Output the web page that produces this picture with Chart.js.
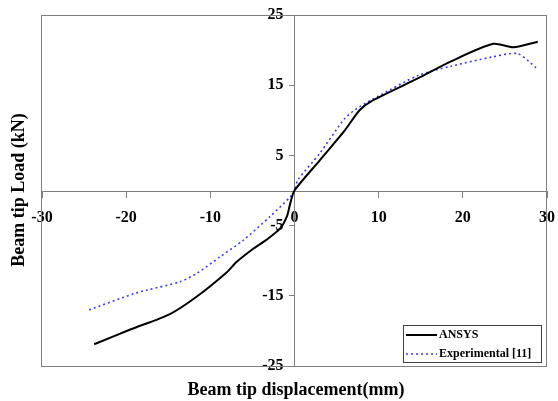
<!DOCTYPE html>
<html>
<head>
<meta charset="utf-8">
<script src="https://cdn.jsdelivr.net/npm/chart.js@4/dist/chart.umd.min.js"></script>
<style>
  html, body { margin: 0; padding: 0; background: #fff; }
  #wrap { width: 558px; height: 401px; }
</style>
</head>
<body>
<div id="wrap"><canvas id="chart" width="558" height="401"></canvas></div>
<script>
const xTicks = [-30, -20, -10, 0, 10, 20, 30];
const yTicks = [25, 15, 5, -5, -15, -25];

// ANSYS model, load vs tip displacement
const ansysX = [-23.8, -19.5, -14.8, -11.6, -8.0, -6.9, -4.9, -3.3, -1.7, -0.9, -0.5, 0, 3.0, 6.0, 7.7, 9.1, 14.7, 18.6, 23.6, 26.0, 28.9];
const ansysY = [-21.9, -19.8, -17.6, -15.1, -11.6, -10.2, -8.3, -7.0, -5.4, -3.7, -1.8, 0, 4.3, 8.6, 11.4, 12.7, 16.0, 18.4, 20.9, 20.4, 21.2];

// test results
const expX = [-24.4, -19.1, -17.6, -13.6, -11.6, -8.9, -6.1, -2.9, -0.5, 0, 0.4, 3.0, 6.0, 7.7, 9.9, 14.7, 18.6, 23.4, 26.5, 28.7];
const expY = [-17.0, -14.7, -14.2, -13.0, -11.8, -9.5, -7.1, -3.7, -0.9, 0, 1.5, 5.3, 10.3, 11.9, 13.4, 16.4, 17.7, 19.0, 19.5, 17.5];

const seriesNames = ["ANSYS", "Experimental [11]"];
const xTitle = "Beam tip displacement(mm)";
const yTitle = "Beam tip Load (kN)";

const SERIF = "'Liberation Serif', 'Times New Roman', serif";
const AXIS_GRAY = "#808080";

function pairs(xs, ys) {
  return xs.map((x, i) => ({ x: x, y: ys[i] }));
}

// the centred axes shouldn't push the plot area in; layout padding handles it
function noEdgePadding(s) {
  s.paddingLeft = 0;
  s.paddingRight = 0;
  s.paddingTop = 0;
  s.paddingBottom = 0;
}

// box around the plot + axis titles + legend
const decor = {
  id: "decor",
  beforeDatasetsDraw(chart) {
    const { ctx, chartArea: a } = chart;
    ctx.save();
    ctx.strokeStyle = AXIS_GRAY;
    ctx.lineWidth = 1;
    ctx.strokeRect(Math.round(a.left) - 0.5, Math.round(a.top) + 0.5,
      Math.round(a.right - a.left), Math.round(a.bottom - a.top));
    ctx.restore();
  },
  afterDraw(chart) {
    const { ctx } = chart;
    ctx.save();
    ctx.fillStyle = "#000";
    ctx.font = "bold 18px " + SERIF;
    ctx.textAlign = "center";
    ctx.textBaseline = "middle";
    ctx.fillText(xTitle, 296, 390);
    ctx.translate(19, 190);
    ctx.rotate(-Math.PI / 2);
    ctx.fillText(yTitle, 0, 0);
    ctx.restore();

    // legend
    const bx = 403, by = 325, bw = 138, bh = 37;
    ctx.save();
    ctx.fillStyle = "#fff";
    ctx.fillRect(bx, by, bw, bh);
    ctx.strokeStyle = "#404040";
    ctx.lineWidth = 1;
    ctx.strokeRect(bx + 0.5, by + 0.5, bw, bh);
    chart.data.datasets.forEach((ds, i) => {
      const y = by + 10 + i * 19;
      ctx.strokeStyle = ds.borderColor;
      ctx.lineWidth = ds.borderWidth;
      ctx.setLineDash(ds.borderDash || []);
      ctx.beginPath();
      ctx.moveTo(bx + 3, y);
      ctx.lineTo(bx + 34, y);
      ctx.stroke();
      ctx.setLineDash([]);
      ctx.fillStyle = "#000";
      ctx.font = "bold 12px " + SERIF;
      ctx.textAlign = "left";
      ctx.textBaseline = "middle";
      ctx.fillText(ds.label, bx + 36, y);
    });
    ctx.restore();
  }
};

new Chart(document.getElementById("chart"), {
  type: "line",
  data: {
    datasets: [
      {
        label: seriesNames[0],
        data: pairs(ansysX, ansysY),
        borderColor: "#000000",
        borderWidth: 2,
        pointRadius: 0,
        tension: 0.25,
        fill: false
      },
      {
        label: seriesNames[1],
        data: pairs(expX, expY),
        borderColor: "#3a3af5",
        borderWidth: 1.6,
        borderDash: [2, 3],
        pointRadius: 0,
        tension: 0.25,
        fill: false
      }
    ]
  },
  options: {
    responsive: false,
    animation: false,
    devicePixelRatio: 1,
    layout: { padding: { left: 42, top: 15, right: 11, bottom: 35 } },
    plugins: {
      legend: { display: false },
      tooltip: { enabled: false }
    },
    scales: {
      x: {
        type: "linear",
        position: "center",
        min: -30,
        max: 30,
        afterBuildTicks: (s) => { s.ticks = xTicks.map(v => ({ value: v })); },
        afterFit: noEdgePadding,
        grid: { drawOnChartArea: false, drawTicks: true, tickLength: 6, color: AXIS_GRAY },
        border: { display: true, color: AXIS_GRAY, width: 1 },
        ticks: {
          autoSkip: false,
          maxRotation: 0,
          padding: 12,
          color: "#000",
          font: { family: SERIF, size: 16, weight: "bold" }
        }
      },
      y: {
        type: "linear",
        position: "center",
        min: -25,
        max: 25,
        afterBuildTicks: (s) => { s.ticks = yTicks.map(v => ({ value: v })); },
        afterFit: noEdgePadding,
        grid: { drawOnChartArea: false, drawTicks: true, tickLength: 5, color: AXIS_GRAY },
        border: { display: true, color: AXIS_GRAY, width: 1 },
        ticks: {
          autoSkip: false,
          padding: 6,
          color: "#000",
          font: { family: SERIF, size: 16, weight: "bold" }
        }
      }
    }
  },
  plugins: [decor]
});
</script>
</body>
</html>
